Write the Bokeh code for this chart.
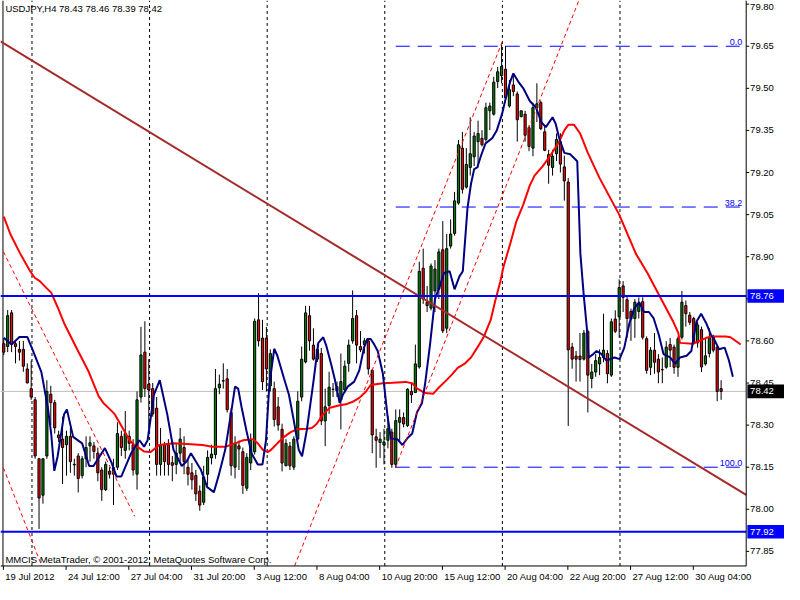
from bokeh.plotting import figure
from bokeh.models import Range1d, ColumnDataSource
from bokeh.core.properties import value
from bokeh.embed import file_html
from bokeh.resources import INLINE

# ---------------- data ----------------
opens = [78.59, 78.58, 78.70, 78.59, 78.57, 78.57, 78.50, 78.43, 78.39, 78.18,
         78.05, 78.19, 78.41, 78.38, 78.265, 78.25, 78.23, 78.26, 78.16, 78.19,
         78.12, 78.18, 78.226, 78.226, 78.20, 78.14, 78.07, 78.136, 78.125, 78.15,
         78.26, 78.21, 78.26, 78.23, 78.125, 78.40, 78.56, 78.446, 78.43, 78.36,
         78.16, 78.23, 78.23, 78.166, 78.16, 78.20, 78.22, 78.15, 78.13, 78.12,
         78.065, 78.025, 78.125, 78.183, 78.195, 78.433, 78.457, 78.465, 78.345, 78.15,
         78.226, 78.205, 78.075, 78.165, 78.205, 78.675, 78.61, 78.61, 78.44, 78.43,
         78.365, 78.285, 78.155, 78.225, 78.15, 78.25, 78.40, 78.525, 78.69, 78.585,
         78.57, 78.555, 78.315, 78.37, 78.428, 78.437, 78.39, 78.425, 78.52, 78.60,
         78.69, 78.58, 78.587, 78.60, 78.495, 78.258, 78.238, 78.229, 78.246, 78.275,
         78.16, 78.31, 78.327, 78.298, 78.42, 78.416, 78.507, 78.859, 78.738, 78.717,
         78.778, 78.784, 78.925, 78.645, 78.938, 78.983, 79.091, 79.287, 79.148, 79.218,
         79.256, 79.31, 79.322, 79.318, 79.42, 79.408, 79.524, 79.545, 79.568, 79.437,
         79.512, 79.48, 79.399, 79.408, 79.36, 79.287, 79.431, 79.449, 79.345, 79.264,
         79.218, 79.267, 79.31, 79.22, 79.166, 78.578, 78.546, 78.546, 78.535, 78.634,
         78.466, 78.489, 78.518, 78.541, 78.555, 78.478, 78.678, 78.686, 78.796, 78.747,
         78.705, 78.680, 78.705, 78.740, 78.608, 78.506, 78.567, 78.535, 78.498, 78.506,
         78.587, 78.578, 78.506, 78.613, 78.726, 78.692, 78.680, 78.593, 78.640, 78.518,
         78.555, 78.616, 78.578, 78.43]
highs = [78.61, 78.71, 78.71, 78.60, 78.60, 78.60, 78.52, 78.53, 78.40, 78.18,
         78.18, 78.46, 78.44, 78.39, 78.28, 78.33, 78.28, 78.29, 78.18, 78.20,
         78.19, 78.26, 78.26, 78.24, 78.22, 78.15, 78.17, 78.15, 78.18, 78.31,
         78.28, 78.35, 78.28, 78.25, 78.42, 78.65, 78.67, 78.535, 78.45, 78.40,
         78.29, 78.24, 78.25, 78.19, 78.235, 78.29, 78.26, 78.18, 78.165, 78.14,
         78.085, 78.155, 78.21, 78.23, 78.50, 78.48, 78.52, 78.50, 78.36, 78.26,
         78.245, 78.22, 78.20, 78.27, 78.68, 78.77, 78.675, 78.65, 78.57, 78.455,
         78.40, 78.305, 78.25, 78.24, 78.26, 78.42, 78.58, 78.725, 78.725, 78.645,
         78.59, 78.575, 78.43, 78.49, 78.45, 78.455, 78.555, 78.53, 78.605, 78.78,
         78.71, 78.635, 78.61, 78.61, 78.50, 78.287, 78.275, 78.287, 78.333, 78.287,
         78.356, 78.356, 78.345, 78.431, 78.449, 78.587, 78.882, 78.929, 78.796, 78.876,
         78.888, 78.929, 79.027, 78.981, 79.033, 79.131, 79.316, 79.345, 79.287, 79.397,
         79.345, 79.385, 79.351, 79.449, 79.449, 79.541, 79.576, 79.657, 79.651, 79.53,
         79.553, 79.489, 79.42, 79.42, 79.368, 79.449, 79.518, 79.457, 79.368, 79.281,
         79.281, 79.339, 79.34, 79.26, 79.18, 78.593, 78.564, 78.628, 78.639, 78.640,
         78.518, 78.553, 78.570, 78.697, 78.567, 78.680, 78.709, 78.819, 78.813, 78.761,
         78.715, 78.749, 78.755, 78.755, 78.616, 78.578, 78.628, 78.553, 78.541, 78.599,
         78.610, 78.587, 78.616, 78.778, 78.744, 78.703, 78.686, 78.668, 78.651, 78.611,
         78.645, 78.622, 78.582, 78.46]
lows = [78.55, 78.56, 78.56, 78.52, 78.53, 78.49, 78.45, 78.39, 78.18, 77.93,
        78.02, 78.18, 78.30, 78.27, 78.24, 78.09, 78.12, 78.13, 78.12, 78.06,
        78.11, 78.15, 78.17, 78.18, 78.10, 78.03, 78.065, 78.11, 78.015, 78.14,
        78.19, 78.18, 78.21, 78.12, 78.07, 78.38, 78.40, 78.29, 78.33, 78.12,
        78.12, 78.12, 78.12, 78.10, 78.125, 78.17, 78.125, 78.085, 78.07, 78.03,
        77.995, 78.015, 78.085, 78.16, 78.18, 78.41, 78.43, 78.345, 78.12, 78.11,
        78.14, 78.055, 78.065, 78.14, 78.195, 78.58, 78.425, 78.42, 78.42, 78.295,
        78.28, 78.135, 78.155, 78.14, 78.14, 78.245, 78.385, 78.52, 78.565, 78.53,
        78.525, 78.30, 78.225, 78.34, 78.40, 78.40, 78.285, 78.415, 78.49, 78.59,
        78.52, 78.56, 78.555, 78.48, 78.20, 78.148, 78.183, 78.16, 78.217, 78.148,
        78.148, 78.241, 78.292, 78.293, 78.379, 78.414, 78.501, 78.732, 78.703, 78.709,
        78.703, 78.749, 78.628, 78.628, 78.929, 78.975, 79.085, 79.125, 79.143, 79.189,
        79.223, 79.218, 79.293, 79.31, 79.351, 79.403, 79.501, 79.518, 79.449, 79.431,
        79.472, 79.31, 79.397, 79.31, 79.276, 79.258, 79.38, 79.351, 79.276, 79.16,
        79.189, 79.241, 79.20, 79.10, 78.297, 78.501, 78.455, 78.455, 78.530, 78.345,
        78.431, 78.472, 78.478, 78.524, 78.449, 78.472, 78.628, 78.611, 78.703, 78.611,
        78.600, 78.611, 78.680, 78.605, 78.483, 78.478, 78.483, 78.449, 78.449, 78.501,
        78.507, 78.483, 78.472, 78.605, 78.651, 78.657, 78.588, 78.576, 78.489, 78.512,
        78.541, 78.559, 78.385, 78.39]
closes = [78.56, 78.69, 78.59, 78.58, 78.56, 78.51, 78.45, 78.40, 78.19, 78.04,
          78.18, 78.42, 78.38, 78.29, 78.255, 78.22, 78.26, 78.17, 78.158, 78.11,
          78.18, 78.22, 78.237, 78.206, 78.13, 78.07, 78.16, 78.125, 78.148, 78.27,
          78.22, 78.27, 78.235, 78.14, 78.39, 78.55, 78.43, 78.425, 78.34, 78.16,
          78.23, 78.17, 78.16, 78.157, 78.20, 78.25, 78.17, 78.125, 78.105, 78.055,
          78.015, 78.115, 78.185, 78.197, 78.43, 78.446, 78.458, 78.355, 78.155, 78.235,
          78.215, 78.085, 78.185, 78.245, 78.67, 78.60, 78.455, 78.50, 78.555, 78.32,
          78.30, 78.165, 78.235, 78.155, 78.25, 78.385, 78.535, 78.70, 78.60, 78.535,
          78.535, 78.315, 78.365, 78.435, 78.427, 78.422, 78.455, 78.51, 78.585, 78.68,
          78.585, 78.568, 78.60, 78.50, 78.265, 78.246, 78.25, 78.24, 78.287, 78.16,
          78.316, 78.327, 78.304, 78.428, 78.408, 78.518, 78.848, 78.749, 78.726, 78.867,
          78.856, 78.917, 78.636, 78.929, 78.981, 79.099, 79.299, 79.14, 79.229, 79.267,
          79.33, 79.339, 79.299, 79.431, 79.437, 79.522, 79.559, 79.578, 79.466, 79.495,
          79.489, 79.388, 79.42, 79.333, 79.293, 79.431, 79.445, 79.356, 79.279, 79.226,
          79.258, 79.318, 79.23, 79.17, 78.568, 78.535, 78.535, 78.534, 78.628, 78.478,
          78.489, 78.530, 78.541, 78.567, 78.483, 78.668, 78.634, 78.790, 78.755, 78.680,
          78.678, 78.738, 78.732, 78.613, 78.495, 78.567, 78.524, 78.489, 78.497, 78.578,
          78.567, 78.506, 78.608, 78.738, 78.697, 78.666, 78.593, 78.657, 78.507, 78.547,
          78.611, 78.567, 78.420, 78.42]

# fast moving average (navy), read as (bar, price)
ma_fast_x = [0, 2, 4, 6, 7.5, 9.6, 11.25, 12.1, 12.9, 13.75, 15.4, 16.1, 17.7, 20, 21.8,
             22.9, 25.8, 27.5, 28.75, 30, 32.5, 34.6, 35.8, 36.7, 38.3, 39.8, 41.7, 43.3,
             45.4, 46.7, 47.75, 50.25, 51.9, 53.6, 54.8, 56.5, 58.2, 59, 59.8, 60.7, 61.9,
             63.2, 64.8, 66, 66.9, 67.75, 69, 69.8, 71.5, 72.75, 74, 75.25, 76.1, 77.3, 79,
             80.25, 81.5, 82.3, 83.6, 84.4, 85.7, 86.5, 87.75, 89.4, 90.7, 91.9, 92.75, 93.6,
             94.4, 95.4, 96.7, 97.9, 98.75, 100.4, 101.7, 102.9, 104.2, 105.4, 106.7, 107.5,
             108.75, 110, 111.25, 112.3, 113.75, 115, 116.25, 117.1, 118.3, 119.2, 120,
             120.8, 121.7, 122.9, 124.6, 125.8, 127.1, 127.9, 129.2, 130, 131.25, 132.5,
             134.2, 135.8, 137.1, 138.3, 140, 140.8, 141.7, 143, 144.5, 146.3, 147.1, 147.9,
             148.75, 149.2, 150.4, 151.25, 152.5, 153.75, 155.8, 157.1, 158.3, 159.6, 160.8,
             162.1, 163.3, 164.6, 165.8, 167.1, 168.3, 170, 171.25, 172.5, 174.2, 175.4,
             176.7, 177.9, 179.2, 180.4, 181.25, 182.5, 183.9, 185, 186]
ma_fast_y = [78.611, 78.587, 78.614, 78.614, 78.564, 78.489, 78.362, 78.27, 78.137, 78.189,
             78.339, 78.356, 78.258, 78.235, 78.154, 78.154, 78.218, 78.166, 78.117, 78.117,
             78.2, 78.246, 78.223, 78.246, 78.408, 78.46, 78.339, 78.212, 78.154, 78.171,
             78.2, 78.142, 78.079, 78.061, 78.119, 78.212, 78.362, 78.437, 78.43, 78.362,
             78.281, 78.2, 78.16, 78.16, 78.246, 78.443, 78.572, 78.547, 78.466, 78.408,
             78.316, 78.212, 78.189, 78.281, 78.455, 78.593, 78.613, 78.582, 78.512, 78.466,
             78.379, 78.408, 78.437, 78.455, 78.495, 78.576, 78.607, 78.607, 78.59, 78.564,
             78.484, 78.333, 78.252, 78.25, 78.229, 78.252, 78.27, 78.345, 78.379, 78.449,
             78.588, 78.749, 78.796, 78.842, 78.848, 78.784, 78.83, 78.848, 79.073, 79.16,
             79.212, 79.218, 79.258, 79.304, 79.322, 79.351, 79.408, 79.455, 79.524, 79.553,
             79.524, 79.501, 79.455, 79.431, 79.38, 79.362, 79.397, 79.374, 79.322, 79.27,
             79.265, 79.24, 78.911, 78.772, 78.645, 78.541, 78.553, 78.564, 78.553, 78.53,
             78.541, 78.535, 78.576, 78.663, 78.715, 78.738, 78.703, 78.703, 78.68, 78.622,
             78.553, 78.541, 78.518, 78.541, 78.547, 78.564, 78.668, 78.697, 78.663, 78.622,
             78.605, 78.57, 78.576, 78.53, 78.472]

# slow moving average (red), read as (bar, price)
ma_slow_x = [0, 1.7, 4.2, 6.7, 7.9, 9.2, 10.8, 12.1, 13.75, 15.4, 18.3, 21.7, 24.2, 25.4,
             27.1, 28.3, 30, 32.1, 33.3, 34.6, 35.8, 37.5, 39.6, 43.3, 46.7, 50.7, 53.2,
             56.5, 59, 61.1, 63.6, 64.8, 66.1, 67.3, 68.2, 69.8, 71.5, 73.2, 74.8, 77.3,
             78.6, 79.8, 81.5, 83.2, 85.7, 87.3, 89, 90.7, 92.3, 93.6, 96.7, 99.2, 102.5,
             104.2, 105.4, 107.5, 109.6, 110.8, 112.5, 114.2, 115.8, 117.5, 119.2, 120.8,
             122.5, 124.2, 125.4, 126.7, 127.5, 129.2, 130.8, 132.5, 134.2, 135.4, 137.5,
             139.6, 141.7, 143, 144, 145.5, 147, 149, 152, 157, 161.25, 164.2, 167.5, 170.8,
             172.1, 172.5, 175.8, 179.2, 180.8, 184.2, 185.4, 188]
ma_slow_y = [79.043, 78.98, 78.911, 78.849, 78.825, 78.813, 78.79, 78.772, 78.72, 78.663,
             78.582, 78.489, 78.403, 78.379, 78.356, 78.339, 78.298, 78.246, 78.229, 78.218,
             78.206, 78.204, 78.229, 78.235, 78.233, 78.229, 78.223, 78.223, 78.235, 78.246,
             78.25, 78.235, 78.212, 78.204, 78.212, 78.235, 78.258, 78.275, 78.285, 78.287,
             78.29, 78.304, 78.339, 78.362, 78.371, 78.374, 78.383, 78.397, 78.418, 78.443,
             78.449, 78.451, 78.454, 78.449, 78.431, 78.414, 78.412, 78.431, 78.454, 78.478,
             78.504, 78.518, 78.541, 78.576, 78.616, 78.674, 78.744, 78.813, 78.865, 78.946,
             79.027, 79.085, 79.154, 79.189, 79.223, 79.264, 79.31, 79.35, 79.37, 79.37,
             79.34, 79.27, 79.18, 79.05, 78.911, 78.842, 78.755, 78.668, 78.628, 78.593,
             78.59, 78.611, 78.616, 78.616, 78.613, 78.587]

# horizontal levels, bid, fibonacci, trend line and channels
support_levels = [78.76, 77.92]
bid_price = 78.42
fib_start_bar, fib_end_bar = 100, 188.4
fib_prices = [79.65, 79.077, 78.15]
fib_names = ["0.0", "38.2", "100.0"]
trend_x = [-0.83, 189.4]
trend_y = [79.667, 78.051]
channels = [([-0.1, 33.4], [78.918, 77.975]),
            ([-0.1, 9.7], [78.148, 77.798]),
            ([74.2, 127.4], [77.798, 79.674]),
            ([99.9, 146.7], [78.148, 79.813])]
separator_bars = [7.2, 37.2, 67.2, 97.2, 127.2, 157.2]
time_tick_bars = [0, 16, 32, 48, 64, 80, 96, 112, 128, 144, 160, 176]
time_tick_labels = ["19 Jul 2012", "24 Jul 12:00", "27 Jul 04:00", "31 Jul 20:00",
                    "3 Aug 12:00", "8 Aug 04:00", "10 Aug 20:00", "15 Aug 12:00",
                    "20 Aug 04:00", "22 Aug 20:00", "27 Aug 12:00", "30 Aug 04:00"]
price_ticks = [77.85, 78.00, 78.15, 78.30, 78.45, 78.60, 78.75, 78.90, 79.05,
               79.20, 79.35, 79.50, 79.65, 79.80]
title_text = "USDJPY,H4  78.43 78.46 78.39 78.42"
copyright_text = "MMCIS MetaTrader, \u00a9 2001-2012, MetaQuotes Software Corp."

# ---------------- layout constants ----------------
FONT = "Liberation Sans"
FS = "9.5px"
X0, X1 = -0.83, 189.4          # chart area (bars)
Y0, Y1 = 77.798, 79.813        # chart area (price)
XC = 199.17                    # canvas right edge (bars)
YC = 77.732                    # canvas bottom edge (price)
PX_X = 0.25                    # one reference pixel in bars
PX_Y = 1 / 288.3               # one reference pixel in price

p = figure(width=784, height=584, x_range=Range1d(X0, XC), y_range=Range1d(YC, Y1),
           output_backend="svg", toolbar_location=None,
           x_axis_location=None, y_axis_location=None,
           min_border_left=0, min_border_top=0, min_border_right=0, min_border_bottom=0)
p.outline_line_color = None
p.background_fill_color = "white"
p.border_fill_color = "white"
p.grid.visible = False

# period separators and left edge
p.segment(x0=separator_bars, y0=[Y0] * len(separator_bars), x1=separator_bars,
          y1=[Y1] * len(separator_bars), line_color="black", line_dash="3 3", line_width=1)
p.segment(x0=[-0.2], y0=[Y0], x1=[-0.2], y1=[Y1], line_color="black", line_width=1)

# bid line
p.segment(x0=[X0], y0=[bid_price], x1=[X1], y1=[bid_price], line_color="#C0C0C0", line_width=1)

# candles
idx = list(range(len(opens)))
src = ColumnDataSource(dict(
    x=idx, o=opens, h=highs, l=lows, c=closes,
    top=[max(o, c) for o, c in zip(opens, closes)],
    bot=[min(o, c) for o, c in zip(opens, closes)],
    col=["#008000" if c > o else "#FF0000" for o, c in zip(opens, closes)]))
p.segment(x0="x", y0="l", x1="x", y1="h", source=src, line_color="black", line_width=1)
p.vbar(x="x", width=0.55, top="top", bottom="bot", source=src,
       fill_color="col", line_color="black", line_width=1)

# moving averages
p.line(ma_slow_x, ma_slow_y, line_color="#FF0000", line_width=2)
p.line(ma_fast_x, ma_fast_y, line_color="#000080", line_width=2)

# trend line
p.line(trend_x, trend_y, line_color="#A52A2A", line_width=2)

# channels
for cx, cy in channels:
    p.line(cx, cy, line_color="#FF0000", line_width=1, line_dash="4 3")

# horizontal support/resistance
for lv in support_levels:
    p.segment(x0=[X0], y0=[lv], x1=[X1], y1=[lv], line_color="#0000FF", line_width=2)

# fibonacci
for fp in fib_prices:
    p.line([fib_start_bar, fib_end_bar], [fp, fp], line_color="#0000FF",
           line_width=1, line_dash="14 8")
p.text(x=[fib_end_bar] * 3, y=[fp + PX_Y for fp in fib_prices], text=fib_names,
       text_align="right", text_baseline="bottom", text_color="#0000FF",
       text_font=value(FONT), text_font_size="9px")

# ---- axes drawn on the canvas ----
# right axis line and ticks
p.segment(x0=[X1], y0=[Y0], x1=[X1], y1=[Y1], line_color="black", line_width=1)
p.segment(x0=[X1] * len(price_ticks), y0=price_ticks,
          x1=[X1 + 3 * PX_X] * len(price_ticks), y1=price_ticks,
          line_color="black", line_width=1)
label_y = [min(t, Y1 - 7 * PX_Y) for t in price_ticks]
p.text(x=[X1 + 4 * PX_X] * len(price_ticks), y=label_y,
       text=["%.2f" % t for t in price_ticks], text_align="left", text_baseline="middle",
       text_color="black", text_font=value(FONT), text_font_size=FS)

# bottom axis line, ticks and labels
p.segment(x0=[X0], y0=[Y0], x1=[X1], y1=[Y0], line_color="black", line_width=1)
tick_x = [b - 0.1 for b in time_tick_bars]
p.segment(x0=tick_x, y0=[Y0] * len(tick_x), x1=tick_x, y1=[Y0 - 4 * PX_Y] * len(tick_x),
          line_color="black", line_width=1)
p.text(x=[b + 2 * PX_X for b in tick_x], y=[Y0 - 11 * PX_Y] * len(tick_x),
       text=time_tick_labels, text_align="left", text_baseline="middle",
       text_color="black", text_font=value(FONT), text_font_size=FS)

# price boxes on the right axis
box_levels = [support_levels[0], support_levels[1], bid_price]
box_colors = ["#0000FF", "#0000FF", "black"]
p.quad(left=[X1 + 0.3] * 3, right=[XC] * 3,
       top=[lv + 7 * PX_Y for lv in box_levels], bottom=[lv - 7 * PX_Y for lv in box_levels],
       fill_color=box_colors, line_color=None)
p.text(x=[X1 + 4 * PX_X] * 3, y=box_levels, text=["%.2f" % lv for lv in box_levels],
       text_align="left", text_baseline="middle", text_color="white",
       text_font=value(FONT), text_font_size=FS)

# title and copyright
p.text(x=[X0 + 5 * PX_X], y=[Y1 - 8 * PX_Y], text=[title_text], text_align="left",
       text_baseline="middle", text_color="black", text_font=value(FONT), text_font_size=FS)
p.text(x=[X0 + 5 * PX_X], y=[Y0 + 7 * PX_Y], text=[copyright_text], text_align="left",
       text_baseline="middle", text_color="black", text_font=value(FONT), text_font_size=FS)

open("out.html", "w").write(file_html(p, INLINE))
